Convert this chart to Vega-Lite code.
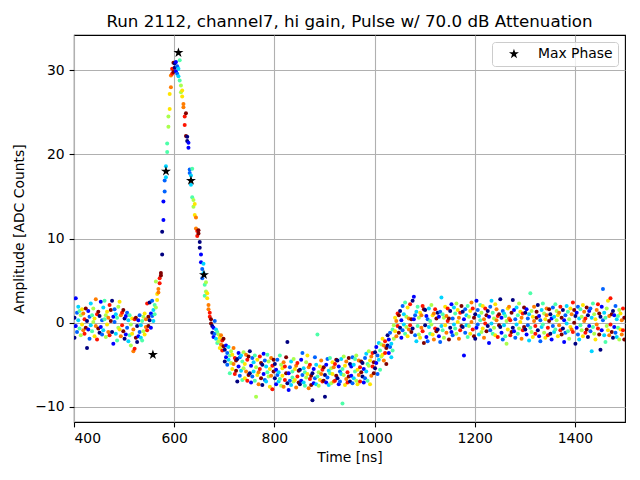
{
  "$schema": "https://vega.github.io/schema/vega-lite/v6.json",
  "width": 551,
  "height": 387,
  "autosize": {"type": "none"},
  "padding": {"left": 74, "top": 35, "right": 15, "bottom": 58},
  "title": {
    "text": "Run 2112, channel7, hi gain, Pulse w/ 70.0 dB Attenuation",
    "font": "DejaVu Sans",
    "fontSize": 16.7,
    "fontWeight": "normal",
    "color": "black",
    "frame": "group",
    "offset": 4
  },
  "datasets": {
    "samples": [
      {"t":401,"a":-1.8,"p":0},{"t":401,"a":0.6,"p":0},{"t":403.5,"a":2.9,"p":1},{"t":403.5,"a":-0.4,"p":1},{"t":406,"a":1.2,"p":2},{"t":406,"a":-1.1,"p":2},{"t":408.5,"a":0.3,"p":3},{"t":408.5,"a":1.9,"p":3},{"t":411,"a":-0.7,"p":4},{"t":411,"a":1.4,"p":4},
      {"t":413.5,"a":0.9,"p":5},{"t":413.5,"a":-1.5,"p":5},{"t":416,"a":-0.2,"p":6},{"t":416,"a":1.6,"p":6},{"t":418.5,"a":1.1,"p":7},{"t":418.5,"a":-0.9,"p":7},{"t":421,"a":-1.3,"p":8},{"t":421,"a":0.4,"p":8},{"t":423.5,"a":1.7,"p":9},{"t":423.5,"a":-0.6,"p":9},
      {"t":426,"a":-3.0,"p":0},{"t":426,"a":0.2,"p":0},{"t":428.5,"a":1.4,"p":1},{"t":428.5,"a":-0.8,"p":1},{"t":431,"a":0.7,"p":2},{"t":431,"a":-1.9,"p":2},{"t":433.5,"a":2.3,"p":3},{"t":433.5,"a":-0.3,"p":3},{"t":436,"a":-1.0,"p":4},{"t":436,"a":0.9,"p":4},
      {"t":438.5,"a":0.1,"p":5},{"t":438.5,"a":1.7,"p":5},{"t":441,"a":-1.6,"p":6},{"t":441,"a":0.5,"p":6},{"t":443.5,"a":2.8,"p":7},{"t":443.5,"a":-0.4,"p":7},{"t":446,"a":1.0,"p":8},{"t":446,"a":-2.0,"p":8},{"t":448.5,"a":-0.7,"p":9},{"t":448.5,"a":1.3,"p":9},
      {"t":451,"a":0.8,"p":0},{"t":451,"a":-1.2,"p":0},{"t":453.5,"a":2.5,"p":1},{"t":453.5,"a":-0.5,"p":1},{"t":456,"a":-1.4,"p":2},{"t":456,"a":0.3,"p":2},{"t":458.5,"a":1.8,"p":3},{"t":458.5,"a":-0.9,"p":3},{"t":461,"a":0.4,"p":4},{"t":461,"a":2.6,"p":4},
      {"t":463.5,"a":-1.7,"p":5},{"t":463.5,"a":0.9,"p":5},{"t":466,"a":1.3,"p":6},{"t":466,"a":-0.2,"p":6},{"t":468.5,"a":-1.1,"p":7},{"t":468.5,"a":0.6,"p":7},{"t":471,"a":2.1,"p":8},{"t":471,"a":-1.5,"p":8},{"t":473.5,"a":0.2,"p":9},{"t":473.5,"a":1.5,"p":9},
      {"t":476,"a":2.6,"p":0},{"t":476,"a":-1.1,"p":0},{"t":478.5,"a":-2.5,"p":1},{"t":478.5,"a":0.7,"p":1},{"t":481,"a":0.1,"p":2},{"t":481,"a":1.6,"p":2},{"t":483.5,"a":-1.3,"p":3},{"t":483.5,"a":1.0,"p":3},{"t":486,"a":0.6,"p":4},{"t":486,"a":-2.1,"p":4},
      {"t":488.5,"a":1.9,"p":5},{"t":488.5,"a":-0.6,"p":5},{"t":491,"a":-0.8,"p":6},{"t":491,"a":2.5,"p":6},{"t":493.5,"a":0.9,"p":7},{"t":493.5,"a":-1.6,"p":7},{"t":496,"a":-0.3,"p":8},{"t":496,"a":1.2,"p":8},{"t":498.5,"a":1.5,"p":9},{"t":498.5,"a":-1.0,"p":9},
      {"t":501,"a":-1.9,"p":0},{"t":501,"a":0.5,"p":0},{"t":503.5,"a":0.8,"p":1},{"t":503.5,"a":-1.4,"p":1},{"t":506,"a":-0.6,"p":2},{"t":506,"a":1.2,"p":2},{"t":508.5,"a":0.3,"p":3},{"t":508.5,"a":-2.2,"p":3},{"t":511,"a":-1.5,"p":4},{"t":511,"a":0.9,"p":4},
      {"t":513.5,"a":-2.7,"p":5},{"t":513.5,"a":-0.2,"p":5},{"t":516,"a":0.5,"p":6},{"t":516,"a":-1.3,"p":6},{"t":518.5,"a":-3.4,"p":7},{"t":518.5,"a":-0.8,"p":7},{"t":521,"a":-3.1,"p":8},{"t":521,"a":0.4,"p":8},{"t":523.5,"a":-1.8,"p":9},{"t":523.5,"a":0.6,"p":9},
      {"t":526,"a":-0.4,"p":0},{"t":526,"a":-2.3,"p":0},{"t":528.5,"a":-1.6,"p":1},{"t":528.5,"a":0.3,"p":1},{"t":531,"a":0.9,"p":2},{"t":531,"a":-1.1,"p":2},{"t":533.5,"a":-0.3,"p":3},{"t":533.5,"a":-1.8,"p":3},{"t":536,"a":-2.1,"p":4},{"t":536,"a":0.2,"p":4},
      {"t":538.5,"a":-1.0,"p":5},{"t":538.5,"a":0.7,"p":5},{"t":541,"a":1.1,"p":6},{"t":541,"a":-1.4,"p":6},{"t":543.5,"a":-0.5,"p":7},{"t":543.5,"a":0.4,"p":7},{"t":546,"a":-0.9,"p":8},{"t":546,"a":2.3,"p":8},{"t":548.5,"a":0.7,"p":9},{"t":548.5,"a":-0.4,"p":9},
      {"t":551,"a":2.4,"p":0},{"t":551,"a":0.3,"p":0},{"t":553.5,"a":1.1,"p":1},{"t":553.5,"a":-0.6,"p":1},{"t":556,"a":2.6,"p":2},{"t":556,"a":0.8,"p":2},{"t":558.5,"a":0.2,"p":3},{"t":558.5,"a":1.5,"p":3},{"t":561,"a":1.0,"p":4},{"t":561,"a":2.1,"p":4},
      {"t":563.5,"a":1.8,"p":5},{"t":563.5,"a":4.9,"p":5},{"t":566,"a":2.7,"p":6},{"t":566,"a":3.4,"p":6},{"t":568.5,"a":4.0,"p":7},{"t":568.5,"a":3.6,"p":7},{"t":571,"a":4.7,"p":8},{"t":571,"a":5.3,"p":8},{"t":573.5,"a":5.9,"p":9},{"t":573.5,"a":5.6,"p":9},
      {"t":576,"a":8.1,"p":0},{"t":576,"a":10.8,"p":0},{"t":578.5,"a":12.2,"p":1},{"t":578.5,"a":14.4,"p":1},{"t":581,"a":15.6,"p":2},{"t":581,"a":16.9,"p":2},{"t":583.5,"a":17.3,"p":3},{"t":583.5,"a":18.6,"p":3},{"t":586,"a":20.3,"p":4},{"t":586,"a":21.3,"p":4},
      {"t":588.5,"a":23.3,"p":5},{"t":588.5,"a":24.5,"p":5},{"t":591,"a":25.4,"p":6},{"t":591,"a":27.2,"p":6},{"t":593.5,"a":28.0,"p":7},{"t":593.5,"a":29.4,"p":7},{"t":596,"a":29.6,"p":8},{"t":596,"a":30.2,"p":8},{"t":598.5,"a":30.9,"p":9},{"t":598.5,"a":29.8,"p":9},
      {"t":601,"a":30.3,"p":0},{"t":601,"a":30.8,"p":0},{"t":603.5,"a":31.0,"p":1},{"t":603.5,"a":29.9,"p":1},{"t":606,"a":30.5,"p":2},{"t":606,"a":29.6,"p":2},{"t":608.5,"a":29.3,"p":3},{"t":608.5,"a":30.2,"p":3},{"t":611,"a":31.2,"p":4},{"t":611,"a":28.8,"p":4},
      {"t":613.5,"a":27.4,"p":5},{"t":613.5,"a":28.2,"p":5},{"t":616,"a":26.9,"p":6},{"t":616,"a":27.6,"p":6},{"t":618.5,"a":26.0,"p":7},{"t":618.5,"a":25.6,"p":7},{"t":621,"a":24.5,"p":8},{"t":621,"a":23.5,"p":8},{"t":623.5,"a":24.9,"p":9},{"t":623.5,"a":22.2,"p":9},
      {"t":626,"a":22.1,"p":0},{"t":626,"a":21.6,"p":0},{"t":628.5,"a":20.8,"p":1},{"t":628.5,"a":21.4,"p":1},{"t":631,"a":18.2,"p":2},{"t":631,"a":17.8,"p":2},{"t":633.5,"a":16.4,"p":3},{"t":633.5,"a":17.5,"p":3},{"t":636,"a":14.9,"p":4},{"t":636,"a":18.3,"p":4},
      {"t":638.5,"a":13.8,"p":5},{"t":638.5,"a":14.6,"p":5},{"t":641,"a":12.8,"p":6},{"t":641,"a":14.1,"p":6},{"t":643.5,"a":11.2,"p":7},{"t":643.5,"a":12.5,"p":7},{"t":646,"a":10.9,"p":8},{"t":646,"a":10.3,"p":8},{"t":648.5,"a":10.6,"p":9},{"t":648.5,"a":11.0,"p":9},
      {"t":651,"a":9.6,"p":0},{"t":651,"a":8.9,"p":0},{"t":653.5,"a":8.1,"p":1},{"t":653.5,"a":7.2,"p":1},{"t":656,"a":5.3,"p":2},{"t":656,"a":6.4,"p":2},{"t":658.5,"a":7.0,"p":3},{"t":658.5,"a":5.9,"p":3},{"t":661,"a":3.2,"p":4},{"t":661,"a":4.5,"p":4},
      {"t":663.5,"a":4.8,"p":5},{"t":663.5,"a":3.7,"p":5},{"t":666,"a":2.9,"p":6},{"t":666,"a":3.5,"p":6},{"t":668.5,"a":2.1,"p":7},{"t":668.5,"a":1.6,"p":7},{"t":671,"a":1.2,"p":8},{"t":671,"a":0.7,"p":8},{"t":673.5,"a":-0.1,"p":9},{"t":673.5,"a":0.4,"p":9},
      {"t":676,"a":-1.2,"p":0},{"t":676,"a":-0.4,"p":0},{"t":678.5,"a":-0.6,"p":1},{"t":678.5,"a":-1.7,"p":1},{"t":681,"a":-1.3,"p":2},{"t":681,"a":0.2,"p":2},{"t":683.5,"a":-1.9,"p":3},{"t":683.5,"a":-0.8,"p":3},{"t":686,"a":-1.1,"p":4},{"t":686,"a":-2.4,"p":4},
      {"t":688.5,"a":-2.2,"p":5},{"t":688.5,"a":-1.4,"p":5},{"t":691,"a":-1.8,"p":6},{"t":691,"a":-3.0,"p":6},{"t":693.5,"a":-2.6,"p":7},{"t":693.5,"a":-1.5,"p":7},{"t":696,"a":-2.1,"p":8},{"t":696,"a":-3.3,"p":8},{"t":698.5,"a":-2.8,"p":9},{"t":698.5,"a":-1.9,"p":9},
      {"t":701,"a":-3.2,"p":0},{"t":701,"a":-4.6,"p":0},{"t":703.5,"a":-2.7,"p":1},{"t":703.5,"a":-4.1,"p":1},{"t":706,"a":-3.6,"p":2},{"t":706,"a":-5.0,"p":2},{"t":708.5,"a":-4.4,"p":3},{"t":708.5,"a":-2.9,"p":3},{"t":711,"a":-3.9,"p":4},{"t":711,"a":-6.0,"p":4},
      {"t":713.5,"a":-4.8,"p":5},{"t":713.5,"a":-3.4,"p":5},{"t":716,"a":-5.5,"p":6},{"t":716,"a":-3.8,"p":6},{"t":718.5,"a":-3.0,"p":7},{"t":718.5,"a":-4.9,"p":7},{"t":721,"a":-6.1,"p":8},{"t":721,"a":-4.2,"p":8},{"t":723.5,"a":-4.5,"p":9},{"t":723.5,"a":-5.7,"p":9},
      {"t":726,"a":-7.0,"p":0},{"t":726,"a":-4.3,"p":0},{"t":728.5,"a":-5.2,"p":1},{"t":728.5,"a":-3.6,"p":1},{"t":731,"a":-4.1,"p":2},{"t":731,"a":-6.3,"p":2},{"t":733.5,"a":-5.7,"p":3},{"t":733.5,"a":-3.9,"p":3},{"t":736,"a":-6.8,"p":4},{"t":736,"a":-4.6,"p":4},
      {"t":738.5,"a":-3.5,"p":5},{"t":738.5,"a":-5.4,"p":5},{"t":741,"a":-4.9,"p":6},{"t":741,"a":-6.6,"p":6},{"t":743.5,"a":-5.8,"p":7},{"t":743.5,"a":-3.8,"p":7},{"t":746,"a":-4.4,"p":8},{"t":746,"a":-6.9,"p":8},{"t":748.5,"a":-6.2,"p":9},{"t":748.5,"a":-4.0,"p":9},
      {"t":751,"a":-3.4,"p":0},{"t":751,"a":-6.0,"p":0},{"t":753.5,"a":-5.1,"p":1},{"t":753.5,"a":-7.1,"p":1},{"t":756,"a":-6.4,"p":2},{"t":756,"a":-4.2,"p":2},{"t":758.5,"a":-4.7,"p":3},{"t":758.5,"a":-5.8,"p":3},{"t":761,"a":-6.9,"p":4},{"t":761,"a":-3.9,"p":4},
      {"t":763.5,"a":-5.3,"p":5},{"t":763.5,"a":-8.8,"p":5},{"t":766,"a":-4.4,"p":6},{"t":766,"a":-6.2,"p":6},{"t":768.5,"a":-5.9,"p":7},{"t":768.5,"a":-7.3,"p":7},{"t":771,"a":-4.0,"p":8},{"t":771,"a":-5.5,"p":8},{"t":773.5,"a":-6.6,"p":9},{"t":773.5,"a":-4.8,"p":9},
      {"t":776,"a":-5.0,"p":0},{"t":776,"a":-7.4,"p":0},{"t":778.5,"a":-6.1,"p":1},{"t":778.5,"a":-3.7,"p":1},{"t":781,"a":-4.5,"p":2},{"t":781,"a":-6.8,"p":2},{"t":783.5,"a":-7.0,"p":3},{"t":783.5,"a":-5.2,"p":3},{"t":786,"a":-3.8,"p":4},{"t":786,"a":-5.9,"p":4},
      {"t":788.5,"a":-6.4,"p":5},{"t":788.5,"a":-4.6,"p":5},{"t":791,"a":-5.5,"p":6},{"t":791,"a":-7.6,"p":6},{"t":793.5,"a":-4.2,"p":7},{"t":793.5,"a":-6.3,"p":7},{"t":796,"a":-7.9,"p":8},{"t":796,"a":-5.1,"p":8},{"t":798.5,"a":-5.8,"p":9},{"t":798.5,"a":-4.4,"p":9},
      {"t":801,"a":-6.6,"p":0},{"t":801,"a":-4.9,"p":0},{"t":803.5,"a":-7.3,"p":1},{"t":803.5,"a":-5.6,"p":1},{"t":806,"a":-4.4,"p":2},{"t":806,"a":-6.2,"p":2},{"t":808.5,"a":-5.9,"p":3},{"t":808.5,"a":-7.0,"p":3},{"t":811,"a":-6.7,"p":4},{"t":811,"a":-3.9,"p":4},
      {"t":813.5,"a":-5.0,"p":5},{"t":813.5,"a":-7.5,"p":5},{"t":816,"a":-6.3,"p":6},{"t":816,"a":-5.4,"p":6},{"t":818.5,"a":-7.6,"p":7},{"t":818.5,"a":-4.7,"p":7},{"t":821,"a":-5.2,"p":8},{"t":821,"a":-6.8,"p":8},{"t":823.5,"a":-4.1,"p":9},{"t":823.5,"a":-6.0,"p":9},
      {"t":826,"a":-2.3,"p":0},{"t":826,"a":-7.2,"p":0},{"t":828.5,"a":-6.0,"p":1},{"t":828.5,"a":-8.0,"p":1},{"t":831,"a":-5.3,"p":2},{"t":831,"a":-6.9,"p":2},{"t":833.5,"a":-7.4,"p":3},{"t":833.5,"a":-4.6,"p":3},{"t":836,"a":-5.8,"p":4},{"t":836,"a":-6.5,"p":4},
      {"t":838.5,"a":-4.3,"p":5},{"t":838.5,"a":-7.0,"p":5},{"t":841,"a":-6.8,"p":6},{"t":841,"a":-5.5,"p":6},{"t":843.5,"a":-5.1,"p":7},{"t":843.5,"a":-7.7,"p":7},{"t":846,"a":-6.4,"p":8},{"t":846,"a":-4.8,"p":8},{"t":848.5,"a":-7.1,"p":9},{"t":848.5,"a":-5.7,"p":9},
      {"t":851,"a":-5.6,"p":0},{"t":851,"a":-7.3,"p":0},{"t":853.5,"a":-6.9,"p":1},{"t":853.5,"a":-4.4,"p":1},{"t":856,"a":-3.6,"p":2},{"t":856,"a":-6.2,"p":2},{"t":858.5,"a":-5.4,"p":3},{"t":858.5,"a":-7.1,"p":3},{"t":861,"a":-7.5,"p":4},{"t":861,"a":-5.9,"p":4},
      {"t":863.5,"a":-4.7,"p":5},{"t":863.5,"a":-6.5,"p":5},{"t":866,"a":-6.1,"p":6},{"t":866,"a":-3.9,"p":6},{"t":868.5,"a":-7.8,"p":7},{"t":868.5,"a":-5.3,"p":7},{"t":871,"a":-5.0,"p":8},{"t":871,"a":-6.7,"p":8},{"t":873.5,"a":-6.3,"p":9},{"t":873.5,"a":-7.4,"p":9},
      {"t":876,"a":-9.2,"p":0},{"t":876,"a":-6.0,"p":0},{"t":878.5,"a":-5.5,"p":1},{"t":878.5,"a":-7.2,"p":1},{"t":881,"a":-6.6,"p":2},{"t":881,"a":-4.1,"p":2},{"t":883.5,"a":-7.3,"p":3},{"t":883.5,"a":-5.0,"p":3},{"t":886,"a":-1.4,"p":4},{"t":886,"a":-6.4,"p":4},
      {"t":888.5,"a":-5.9,"p":5},{"t":888.5,"a":-7.5,"p":5},{"t":891,"a":-6.8,"p":6},{"t":891,"a":-5.2,"p":6},{"t":893.5,"a":-4.5,"p":7},{"t":893.5,"a":-6.1,"p":7},{"t":896,"a":-7.0,"p":8},{"t":896,"a":-5.6,"p":8},{"t":898.5,"a":-5.3,"p":9},{"t":898.5,"a":-6.9,"p":9},
      {"t":901,"a":-8.8,"p":0},{"t":901,"a":-6.2,"p":0},{"t":903.5,"a":-5.0,"p":1},{"t":903.5,"a":-7.1,"p":1},{"t":906,"a":-6.5,"p":2},{"t":906,"a":-4.3,"p":2},{"t":908.5,"a":-5.7,"p":3},{"t":908.5,"a":-7.4,"p":3},{"t":911,"a":-4.2,"p":4},{"t":911,"a":-6.0,"p":4},
      {"t":913.5,"a":-7.2,"p":5},{"t":913.5,"a":-5.4,"p":5},{"t":916,"a":-6.1,"p":6},{"t":916,"a":-4.7,"p":6},{"t":918.5,"a":-5.3,"p":7},{"t":918.5,"a":-7.0,"p":7},{"t":921,"a":-6.9,"p":8},{"t":921,"a":-4.9,"p":8},{"t":923.5,"a":-4.4,"p":9},{"t":923.5,"a":-6.3,"p":9},
      {"t":926,"a":-6.6,"p":0},{"t":926,"a":-4.5,"p":0},{"t":928.5,"a":-5.2,"p":1},{"t":928.5,"a":-7.3,"p":1},{"t":931,"a":-7.0,"p":2},{"t":931,"a":-5.8,"p":2},{"t":933.5,"a":-4.3,"p":3},{"t":933.5,"a":-6.1,"p":3},{"t":936,"a":-9.6,"p":4},{"t":936,"a":-5.5,"p":4},
      {"t":938.5,"a":-6.2,"p":5},{"t":938.5,"a":-4.0,"p":5},{"t":941,"a":-7.4,"p":6},{"t":941,"a":-5.1,"p":6},{"t":943.5,"a":-4.6,"p":7},{"t":943.5,"a":-6.7,"p":7},{"t":946,"a":-5.9,"p":8},{"t":946,"a":-7.1,"p":8},{"t":948.5,"a":-6.4,"p":9},{"t":948.5,"a":-4.2,"p":9},
      {"t":951,"a":-4.9,"p":0},{"t":951,"a":-7.0,"p":0},{"t":953.5,"a":-6.3,"p":1},{"t":953.5,"a":-5.2,"p":1},{"t":956,"a":-7.2,"p":2},{"t":956,"a":-4.1,"p":2},{"t":958.5,"a":-5.0,"p":3},{"t":958.5,"a":-6.6,"p":3},{"t":961,"a":-4.3,"p":4},{"t":961,"a":-5.8,"p":4},
      {"t":963.5,"a":-6.9,"p":5},{"t":963.5,"a":-3.9,"p":5},{"t":966,"a":-5.6,"p":6},{"t":966,"a":-7.3,"p":6},{"t":968.5,"a":-4.5,"p":7},{"t":968.5,"a":-6.2,"p":7},{"t":971,"a":-7.0,"p":8},{"t":971,"a":-5.3,"p":8},{"t":973.5,"a":-5.9,"p":9},{"t":973.5,"a":-4.6,"p":9},
      {"t":976,"a":-6.4,"p":0},{"t":976,"a":-4.8,"p":0},{"t":978.5,"a":-7.1,"p":1},{"t":978.5,"a":-5.5,"p":1},{"t":981,"a":-4.2,"p":2},{"t":981,"a":-6.6,"p":2},{"t":983.5,"a":-5.8,"p":3},{"t":983.5,"a":-3.7,"p":3},{"t":986,"a":-6.9,"p":4},{"t":986,"a":-4.9,"p":4},
      {"t":988.5,"a":-5.1,"p":5},{"t":988.5,"a":-3.4,"p":5},{"t":991,"a":-7.3,"p":6},{"t":991,"a":-4.5,"p":6},{"t":993.5,"a":-4.0,"p":7},{"t":993.5,"a":-6.3,"p":7},{"t":996,"a":-5.2,"p":8},{"t":996,"a":-3.6,"p":8},{"t":998.5,"a":-4.7,"p":9},{"t":998.5,"a":-6.0,"p":9},
      {"t":1001,"a":-3.5,"p":0},{"t":1001,"a":-5.4,"p":0},{"t":1003.5,"a":-4.8,"p":1},{"t":1003.5,"a":-2.9,"p":1},{"t":1006,"a":-3.9,"p":2},{"t":1006,"a":-6.1,"p":2},{"t":1008.5,"a":-2.4,"p":3},{"t":1008.5,"a":-4.4,"p":3},{"t":1011,"a":-5.6,"p":4},{"t":1011,"a":-3.3,"p":4},
      {"t":1013.5,"a":-2.6,"p":5},{"t":1013.5,"a":-4.0,"p":5},{"t":1016,"a":-3.8,"p":6},{"t":1016,"a":-1.9,"p":6},{"t":1018.5,"a":-4.5,"p":7},{"t":1018.5,"a":-2.7,"p":7},{"t":1021,"a":-2.2,"p":8},{"t":1021,"a":-3.6,"p":8},{"t":1023.5,"a":-3.0,"p":9},{"t":1023.5,"a":-4.9,"p":9},
      {"t":1026,"a":-2.7,"p":0},{"t":1026,"a":-1.5,"p":0},{"t":1028.5,"a":-3.6,"p":1},{"t":1028.5,"a":-2.0,"p":1},{"t":1031,"a":-1.2,"p":2},{"t":1031,"a":-2.9,"p":2},{"t":1033.5,"a":-2.5,"p":3},{"t":1033.5,"a":-4.1,"p":3},{"t":1036,"a":-3.3,"p":4},{"t":1036,"a":-0.8,"p":4},
      {"t":1038.5,"a":-1.9,"p":5},{"t":1038.5,"a":-0.3,"p":5},{"t":1041,"a":-1.0,"p":6},{"t":1041,"a":0.6,"p":6},{"t":1043.5,"a":-1.6,"p":7},{"t":1043.5,"a":0.2,"p":7},{"t":1046,"a":-0.4,"p":8},{"t":1046,"a":1.1,"p":8},{"t":1048.5,"a":0.9,"p":9},{"t":1048.5,"a":-1.2,"p":9},
      {"t":1051,"a":-0.6,"p":0},{"t":1051,"a":1.4,"p":0},{"t":1053.5,"a":0.3,"p":1},{"t":1053.5,"a":-1.8,"p":1},{"t":1056,"a":2.0,"p":2},{"t":1056,"a":-0.9,"p":2},{"t":1058.5,"a":-0.2,"p":3},{"t":1058.5,"a":1.0,"p":3},{"t":1061,"a":2.4,"p":4},{"t":1061,"a":-1.3,"p":4},
      {"t":1063.5,"a":0.7,"p":5},{"t":1063.5,"a":-0.5,"p":5},{"t":1066,"a":1.8,"p":6},{"t":1066,"a":-1.6,"p":6},{"t":1068.5,"a":-0.8,"p":7},{"t":1068.5,"a":0.5,"p":7},{"t":1071,"a":2.2,"p":8},{"t":1071,"a":-0.3,"p":8},{"t":1073.5,"a":0.4,"p":9},{"t":1073.5,"a":-1.1,"p":9},
      {"t":1076,"a":2.6,"p":0},{"t":1076,"a":-0.7,"p":0},{"t":1078.5,"a":3.1,"p":1},{"t":1078.5,"a":0.4,"p":1},{"t":1081,"a":-1.5,"p":2},{"t":1081,"a":0.9,"p":2},{"t":1083.5,"a":1.3,"p":3},{"t":1083.5,"a":-2.2,"p":3},{"t":1086,"a":-0.4,"p":4},{"t":1086,"a":1.9,"p":4},
      {"t":1088.5,"a":0.6,"p":5},{"t":1088.5,"a":-1.4,"p":5},{"t":1091,"a":-1.8,"p":6},{"t":1091,"a":1.2,"p":6},{"t":1093.5,"a":0.9,"p":7},{"t":1093.5,"a":-0.6,"p":7},{"t":1096,"a":-1.0,"p":8},{"t":1096,"a":2.0,"p":8},{"t":1098.5,"a":1.6,"p":9},{"t":1098.5,"a":-2.4,"p":9},
      {"t":1101,"a":-0.3,"p":0},{"t":1101,"a":1.5,"p":0},{"t":1103.5,"a":0.8,"p":1},{"t":1103.5,"a":-1.7,"p":1},{"t":1106,"a":-2.2,"p":2},{"t":1106,"a":0.4,"p":2},{"t":1108.5,"a":1.7,"p":3},{"t":1108.5,"a":-0.5,"p":3},{"t":1111,"a":0.2,"p":4},{"t":1111,"a":-1.3,"p":4},
      {"t":1113.5,"a":2.1,"p":5},{"t":1113.5,"a":-0.2,"p":5},{"t":1116,"a":-1.4,"p":6},{"t":1116,"a":0.9,"p":6},{"t":1118.5,"a":1.1,"p":7},{"t":1118.5,"a":-2.0,"p":7},{"t":1121,"a":-0.7,"p":8},{"t":1121,"a":1.6,"p":8},{"t":1123.5,"a":0.5,"p":9},{"t":1123.5,"a":-1.0,"p":9},
      {"t":1126,"a":1.2,"p":0},{"t":1126,"a":-0.8,"p":0},{"t":1128.5,"a":-1.6,"p":1},{"t":1128.5,"a":0.7,"p":1},{"t":1131,"a":1.3,"p":2},{"t":1131,"a":-2.3,"p":2},{"t":1133.5,"a":3.0,"p":3},{"t":1133.5,"a":-0.4,"p":3},{"t":1136,"a":-0.9,"p":4},{"t":1136,"a":1.0,"p":4},
      {"t":1138.5,"a":0.6,"p":5},{"t":1138.5,"a":-1.8,"p":5},{"t":1141,"a":1.9,"p":6},{"t":1141,"a":-0.3,"p":6},{"t":1143.5,"a":-1.2,"p":7},{"t":1143.5,"a":0.8,"p":7},{"t":1146,"a":0.2,"p":8},{"t":1146,"a":1.7,"p":8},{"t":1148.5,"a":-2.0,"p":9},{"t":1148.5,"a":0.5,"p":9},
      {"t":1151,"a":1.4,"p":0},{"t":1151,"a":-0.6,"p":0},{"t":1153.5,"a":-1.1,"p":1},{"t":1153.5,"a":2.2,"p":1},{"t":1156,"a":0.5,"p":2},{"t":1156,"a":-1.5,"p":2},{"t":1158.5,"a":1.8,"p":3},{"t":1158.5,"a":-0.2,"p":3},{"t":1161,"a":-0.7,"p":4},{"t":1161,"a":1.1,"p":4},
      {"t":1163.5,"a":2.3,"p":5},{"t":1163.5,"a":-1.3,"p":5},{"t":1166,"a":0.1,"p":6},{"t":1166,"a":1.5,"p":6},{"t":1168.5,"a":-1.9,"p":7},{"t":1168.5,"a":0.6,"p":7},{"t":1171,"a":1.2,"p":8},{"t":1171,"a":-0.9,"p":8},{"t":1173.5,"a":-0.4,"p":9},{"t":1173.5,"a":2.0,"p":9},
      {"t":1176,"a":-0.5,"p":0},{"t":1176,"a":1.3,"p":0},{"t":1178.5,"a":-3.9,"p":1},{"t":1178.5,"a":0.4,"p":1},{"t":1181,"a":1.6,"p":2},{"t":1181,"a":-1.2,"p":2},{"t":1183.5,"a":-0.3,"p":3},{"t":1183.5,"a":0.9,"p":3},{"t":1186,"a":2.0,"p":4},{"t":1186,"a":-1.7,"p":4},
      {"t":1188.5,"a":0.7,"p":5},{"t":1188.5,"a":-0.4,"p":5},{"t":1191,"a":-1.3,"p":6},{"t":1191,"a":1.4,"p":6},{"t":1193.5,"a":2.4,"p":7},{"t":1193.5,"a":0.1,"p":7},{"t":1196,"a":-0.8,"p":8},{"t":1196,"a":1.7,"p":8},{"t":1198.5,"a":0.6,"p":9},{"t":1198.5,"a":-1.6,"p":9},
      {"t":1201,"a":1.0,"p":0},{"t":1201,"a":-1.9,"p":0},{"t":1203.5,"a":-0.6,"p":1},{"t":1203.5,"a":2.6,"p":1},{"t":1206,"a":1.5,"p":2},{"t":1206,"a":-0.2,"p":2},{"t":1208.5,"a":-1.4,"p":3},{"t":1208.5,"a":0.8,"p":3},{"t":1211,"a":0.3,"p":4},{"t":1211,"a":2.1,"p":4},
      {"t":1213.5,"a":-1.1,"p":5},{"t":1213.5,"a":1.2,"p":5},{"t":1216,"a":2.0,"p":6},{"t":1216,"a":-0.7,"p":6},{"t":1218.5,"a":0.4,"p":7},{"t":1218.5,"a":-1.8,"p":7},{"t":1221,"a":1.7,"p":8},{"t":1221,"a":-0.1,"p":8},{"t":1223.5,"a":-1.0,"p":9},{"t":1223.5,"a":0.9,"p":9},
      {"t":1226,"a":-0.4,"p":0},{"t":1226,"a":1.4,"p":0},{"t":1228.5,"a":0.7,"p":1},{"t":1228.5,"a":-2.4,"p":1},{"t":1231,"a":1.9,"p":2},{"t":1231,"a":-0.9,"p":2},{"t":1233.5,"a":-0.1,"p":3},{"t":1233.5,"a":2.6,"p":3},{"t":1236,"a":1.2,"p":4},{"t":1236,"a":-1.3,"p":4},
      {"t":1238.5,"a":-0.6,"p":5},{"t":1238.5,"a":0.5,"p":5},{"t":1241,"a":2.2,"p":6},{"t":1241,"a":-1.5,"p":6},{"t":1243.5,"a":0.3,"p":7},{"t":1243.5,"a":1.6,"p":7},{"t":1246,"a":-1.7,"p":8},{"t":1246,"a":0.8,"p":8},{"t":1248.5,"a":1.0,"p":9},{"t":1248.5,"a":-0.3,"p":9},
      {"t":1251,"a":2.8,"p":0},{"t":1251,"a":-0.5,"p":0},{"t":1253.5,"a":-1.2,"p":1},{"t":1253.5,"a":0.6,"p":1},{"t":1256,"a":1.4,"p":2},{"t":1256,"a":-2.0,"p":2},{"t":1258.5,"a":-0.3,"p":3},{"t":1258.5,"a":1.1,"p":3},{"t":1261,"a":0.8,"p":4},{"t":1261,"a":-1.6,"p":4},
      {"t":1263.5,"a":-2.5,"p":5},{"t":1263.5,"a":0.2,"p":5},{"t":1266,"a":1.7,"p":6},{"t":1266,"a":-0.8,"p":6},{"t":1268.5,"a":0.5,"p":7},{"t":1268.5,"a":1.9,"p":7},{"t":1271,"a":-1.5,"p":8},{"t":1271,"a":0.3,"p":8},{"t":1273.5,"a":1.2,"p":9},{"t":1273.5,"a":-1.1,"p":9},
      {"t":1276,"a":2.7,"p":0},{"t":1276,"a":-0.6,"p":0},{"t":1278.5,"a":-1.0,"p":1},{"t":1278.5,"a":1.5,"p":1},{"t":1281,"a":0.4,"p":2},{"t":1281,"a":-1.8,"p":2},{"t":1283.5,"a":1.8,"p":3},{"t":1283.5,"a":-0.2,"p":3},{"t":1286,"a":-1.3,"p":4},{"t":1286,"a":0.9,"p":4},
      {"t":1288.5,"a":2.3,"p":5},{"t":1288.5,"a":-0.7,"p":5},{"t":1291,"a":0.1,"p":6},{"t":1291,"a":1.3,"p":6},{"t":1293.5,"a":-1.9,"p":7},{"t":1293.5,"a":0.6,"p":7},{"t":1296,"a":1.1,"p":8},{"t":1296,"a":-0.9,"p":8},{"t":1298.5,"a":-0.5,"p":9},{"t":1298.5,"a":1.8,"p":9},
      {"t":1301,"a":-0.8,"p":0},{"t":1301,"a":1.2,"p":0},{"t":1303.5,"a":1.6,"p":1},{"t":1303.5,"a":-1.4,"p":1},{"t":1306,"a":-0.3,"p":2},{"t":1306,"a":0.5,"p":2},{"t":1308.5,"a":1.0,"p":3},{"t":1308.5,"a":-2.1,"p":3},{"t":1311,"a":3.5,"p":4},{"t":1311,"a":-0.6,"p":4},
      {"t":1313.5,"a":-1.1,"p":5},{"t":1313.5,"a":1.4,"p":5},{"t":1316,"a":0.7,"p":6},{"t":1316,"a":-1.7,"p":6},{"t":1318.5,"a":1.9,"p":7},{"t":1318.5,"a":0.2,"p":7},{"t":1321,"a":-0.4,"p":8},{"t":1321,"a":-1.3,"p":8},{"t":1323.5,"a":1.3,"p":9},{"t":1323.5,"a":0.6,"p":9},
      {"t":1326,"a":2.1,"p":0},{"t":1326,"a":-0.9,"p":0},{"t":1328.5,"a":-1.6,"p":1},{"t":1328.5,"a":0.8,"p":1},{"t":1331,"a":0.3,"p":2},{"t":1331,"a":-2.2,"p":2},{"t":1333.5,"a":1.5,"p":3},{"t":1333.5,"a":-0.5,"p":3},{"t":1336,"a":-0.2,"p":4},{"t":1336,"a":2.3,"p":4},
      {"t":1338.5,"a":1.1,"p":5},{"t":1338.5,"a":-1.2,"p":5},{"t":1341,"a":-1.8,"p":6},{"t":1341,"a":0.4,"p":6},{"t":1343.5,"a":0.9,"p":7},{"t":1343.5,"a":1.7,"p":7},{"t":1346,"a":-0.6,"p":8},{"t":1346,"a":-1.5,"p":8},{"t":1348.5,"a":1.6,"p":9},{"t":1348.5,"a":0.2,"p":9},
      {"t":1351,"a":-1.3,"p":0},{"t":1351,"a":1.0,"p":0},{"t":1353.5,"a":0.5,"p":1},{"t":1353.5,"a":-2.0,"p":1},{"t":1356,"a":1.8,"p":2},{"t":1356,"a":-0.4,"p":2},{"t":1358.5,"a":-1.1,"p":3},{"t":1358.5,"a":0.7,"p":3},{"t":1361,"a":2.2,"p":4},{"t":1361,"a":-0.8,"p":4},
      {"t":1363.5,"a":0.3,"p":5},{"t":1363.5,"a":1.4,"p":5},{"t":1366,"a":-1.6,"p":6},{"t":1366,"a":0.9,"p":6},{"t":1368.5,"a":1.2,"p":7},{"t":1368.5,"a":-0.3,"p":7},{"t":1371,"a":-0.9,"p":8},{"t":1371,"a":1.9,"p":8},{"t":1373.5,"a":0.6,"p":9},{"t":1373.5,"a":-1.4,"p":9},
      {"t":1376,"a":1.5,"p":0},{"t":1376,"a":-0.7,"p":0},{"t":1378.5,"a":-2.3,"p":1},{"t":1378.5,"a":0.3,"p":1},{"t":1381,"a":0.9,"p":2},{"t":1381,"a":-1.2,"p":2},{"t":1383.5,"a":2.0,"p":3},{"t":1383.5,"a":-0.1,"p":3},{"t":1386,"a":-1.0,"p":4},{"t":1386,"a":1.3,"p":4},
      {"t":1388.5,"a":0.4,"p":5},{"t":1388.5,"a":-1.9,"p":5},{"t":1391,"a":1.7,"p":6},{"t":1391,"a":-0.5,"p":6},{"t":1393.5,"a":-0.8,"p":7},{"t":1393.5,"a":1.0,"p":7},{"t":1396,"a":2.4,"p":8},{"t":1396,"a":-1.1,"p":8},{"t":1398.5,"a":0.0,"p":9},{"t":1398.5,"a":1.5,"p":9},
      {"t":1401,"a":-2.5,"p":0},{"t":1401,"a":0.8,"p":0},{"t":1403.5,"a":1.2,"p":1},{"t":1403.5,"a":-0.6,"p":1},{"t":1406,"a":-1.4,"p":2},{"t":1406,"a":1.9,"p":2},{"t":1408.5,"a":0.5,"p":3},{"t":1408.5,"a":-2.0,"p":3},{"t":1411,"a":1.6,"p":4},{"t":1411,"a":-0.3,"p":4},
      {"t":1413.5,"a":-0.9,"p":5},{"t":1413.5,"a":0.7,"p":5},{"t":1416,"a":2.1,"p":6},{"t":1416,"a":-1.6,"p":6},{"t":1418.5,"a":0.2,"p":7},{"t":1418.5,"a":1.3,"p":7},{"t":1421,"a":-1.2,"p":8},{"t":1421,"a":0.5,"p":8},{"t":1423.5,"a":1.8,"p":9},{"t":1423.5,"a":-0.8,"p":9},
      {"t":1426,"a":0.9,"p":0},{"t":1426,"a":-1.7,"p":0},{"t":1428.5,"a":-0.4,"p":1},{"t":1428.5,"a":1.4,"p":1},{"t":1431,"a":1.7,"p":2},{"t":1431,"a":-1.0,"p":2},{"t":1433.5,"a":-3.4,"p":3},{"t":1433.5,"a":0.6,"p":3},{"t":1436,"a":2.3,"p":4},{"t":1436,"a":-0.5,"p":4},
      {"t":1438.5,"a":-1.3,"p":5},{"t":1438.5,"a":1.0,"p":5},{"t":1441,"a":0.4,"p":6},{"t":1441,"a":-2.0,"p":6},{"t":1443.5,"a":1.5,"p":7},{"t":1443.5,"a":-0.2,"p":7},{"t":1446,"a":-0.7,"p":8},{"t":1446,"a":2.2,"p":8},{"t":1448.5,"a":1.1,"p":9},{"t":1448.5,"a":-1.4,"p":9},
      {"t":1451,"a":-3.2,"p":0},{"t":1451,"a":0.7,"p":0},{"t":1453.5,"a":1.9,"p":1},{"t":1453.5,"a":-0.9,"p":1},{"t":1456,"a":4.0,"p":2},{"t":1456,"a":0.3,"p":2},{"t":1458.5,"a":-1.5,"p":3},{"t":1458.5,"a":1.2,"p":3},{"t":1461,"a":0.6,"p":4},{"t":1461,"a":-2.3,"p":4},
      {"t":1463.5,"a":1.7,"p":5},{"t":1463.5,"a":-0.4,"p":5},{"t":1466,"a":-0.9,"p":6},{"t":1466,"a":2.6,"p":6},{"t":1468.5,"a":0.8,"p":7},{"t":1468.5,"a":-1.5,"p":7},{"t":1471,"a":2.9,"p":8},{"t":1471,"a":-0.2,"p":8},{"t":1473.5,"a":-1.1,"p":9},{"t":1473.5,"a":1.0,"p":9},
      {"t":1476,"a":1.4,"p":0},{"t":1476,"a":-1.8,"p":0},{"t":1478.5,"a":-0.5,"p":1},{"t":1478.5,"a":0.9,"p":1},{"t":1481,"a":2.0,"p":2},{"t":1481,"a":-1.2,"p":2},{"t":1483.5,"a":-1.7,"p":3},{"t":1483.5,"a":0.4,"p":3},{"t":1486,"a":0.8,"p":4},{"t":1486,"a":-0.6,"p":4},
      {"t":1488.5,"a":1.5,"p":5},{"t":1488.5,"a":-2.0,"p":5},{"t":1491,"a":-0.8,"p":6},{"t":1491,"a":1.1,"p":6},{"t":1493.5,"a":0.3,"p":7},{"t":1493.5,"a":-1.4,"p":7},{"t":1496,"a":1.7,"p":8},{"t":1496,"a":-0.9,"p":8},{"t":1498.5,"a":-2.0,"p":9},{"t":1498.5,"a":0.6,"p":9}
    ],
    "maxphase": [
      {"t":557.5,"a":-3.8,"label":"Max Phase"},
      {"t":583.6,"a":18.0,"label":"Max Phase"},
      {"t":608.5,"a":32.1,"label":"Max Phase"},
      {"t":633.5,"a":16.9,"label":"Max Phase"},
      {"t":659.5,"a":5.7,"label":"Max Phase"}
    ]
  },
  "encoding": {
    "x": {
      "field": "t",
      "type": "quantitative",
      "title": "Time [ns]",
      "scale": {"domain": [400, 1500], "nice": false, "zero": false},
      "axis": {"values": [400, 600, 800, 1000, 1200, 1400], "format": "d", "titlePadding": 5}
    },
    "y": {
      "field": "a",
      "type": "quantitative",
      "title": "Amplitude [ADC Counts]",
      "scale": {"domain": [-11.8, 34.2], "nice": false, "zero": false},
      "axis": {"values": [-10, 0, 10, 20, 30], "titlePadding": 8}
    }
  },
  "layer": [
    {
      "data": {"name": "samples"},
      "mark": {"type": "circle", "size": 16, "opacity": 1, "clip": true},
      "encoding": {
        "color": {
          "field": "p",
          "type": "ordinal",
          "scale": {
            "domain": [0, 1, 2, 3, 4, 5, 6, 7, 8, 9],
            "range": ["#000080", "#0000ff", "#0063ff", "#00d4ff", "#4dffa9", "#a9ff4d", "#ffe500", "#ff7d00", "#ff1400", "#800000"]
          },
          "legend": null
        }
      }
    },
    {
      "data": {"name": "maxphase"},
      "mark": {"type": "point", "filled": true, "color": "black", "opacity": 1, "size": 110, "clip": true},
      "encoding": {
        "shape": {
          "field": "label",
          "type": "nominal",
          "scale": {"range": ["M0,-1L0.2245,-0.309L0.9511,-0.309L0.3633,0.118L0.5878,0.809L0,0.382L-0.5878,0.809L-0.3633,0.118L-0.9511,-0.309L-0.2245,-0.309Z"]},
          "legend": {
            "title": null,
            "orient": "top-right",
            "offset": 7,
            "padding": 5,
            "strokeColor": "#cccccc",
            "fillColor": "rgba(255,255,255,0.8)",
            "cornerRadius": 3,
            "labelFont": "DejaVu Sans",
            "labelFontSize": 13.9,
            "labelColor": "black",
            "labelOffset": 17,
            "symbolOffset": 10,
            "symbolSize": 110,
            "symbolFillColor": "black",
            "symbolStrokeWidth": 0
          }
        }
      }
    }
  ],
  "config": {
    "view": {"stroke": "black", "strokeWidth": 1.1},
    "axis": {
      "grid": true,
      "gridColor": "#b0b0b0",
      "gridWidth": 1.1,
      "domain": false,
      "tickColor": "black",
      "tickSize": 4.9,
      "tickWidth": 1.1,
      "labelFont": "DejaVu Sans",
      "labelFontSize": 13.9,
      "labelColor": "black",
      "labelPadding": 5,
      "titleFont": "DejaVu Sans",
      "titleFontSize": 13.9,
      "titleFontWeight": "normal",
      "titleColor": "black"
    }
  }
}
